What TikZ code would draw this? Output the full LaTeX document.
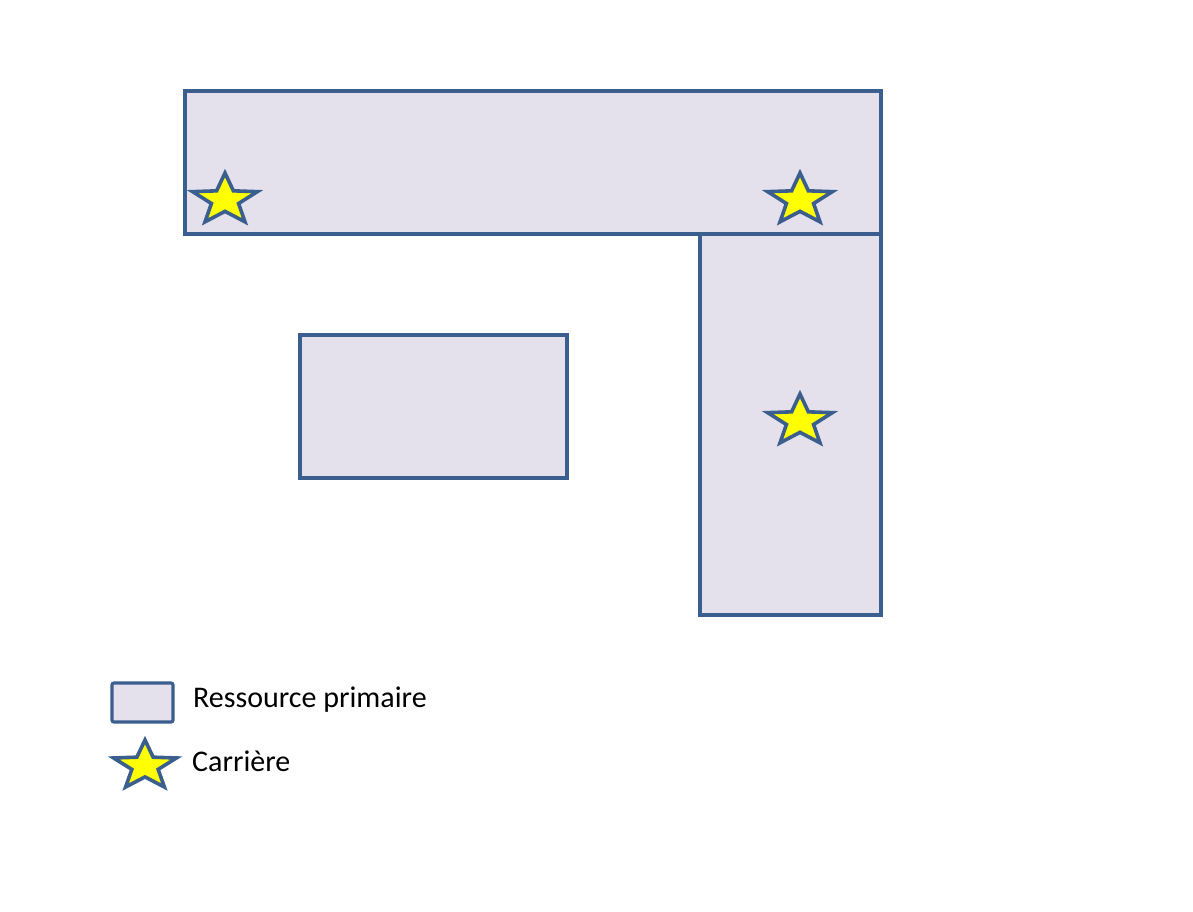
\documentclass[tikz,border=0pt]{standalone}
\usepackage{fontspec}
\setmainfont{Carlito}
\definecolor{edgeblue}{HTML}{3A5F8F}
\definecolor{lav}{HTML}{E4E0EC}
\definecolor{staryellow}{HTML}{FFFF00}
\tikzset{
  zone/.style={draw=edgeblue, fill=lav, line width=3.2pt},
  carriere/.style={draw=edgeblue, fill=staryellow, line width=3.6pt, line join=miter},
  legendtext/.style={anchor=base west, inner sep=0pt, font=\fontsize{30}{34}\selectfont}
}
\newcommand{\mystar}[4]{% x, y, rx, ry
  \draw[carriere, shift={(#1,#2)}, xscale=#3/#4]
    (270:#4) -- (306:0.42*#4) -- (342:#4) -- (18:0.42*#4) -- (54:#4) -- (90:0.42*#4)
    -- (126:#4) -- (162:0.42*#4) -- (198:#4) -- (234:0.42*#4) -- cycle;}
\begin{document}
\begin{tikzpicture}[x=1pt,y=-1pt]
\useasboundingbox[fill=white] (0,0) rectangle (1193,911);
% zones
\draw[zone] (700,234) rectangle (881,615);
\draw[zone] (185,91) rectangle (881,234);
\draw[zone] (300,335) rectangle (567,478);
% stars
\mystar{225}{200}{34}{27}
\mystar{800}{200}{34}{27}
\mystar{800}{421}{34}{27}
% legend
\draw[zone, rounded corners=2pt] (112,683) rectangle (173,722);
\node[legendtext] (l1) at (193,707) {Ressource primaire};
\mystar{145}{766}{33}{26}
\node[legendtext] (l2) at (192,771) {Carrière};
\end{tikzpicture}
\end{document}
